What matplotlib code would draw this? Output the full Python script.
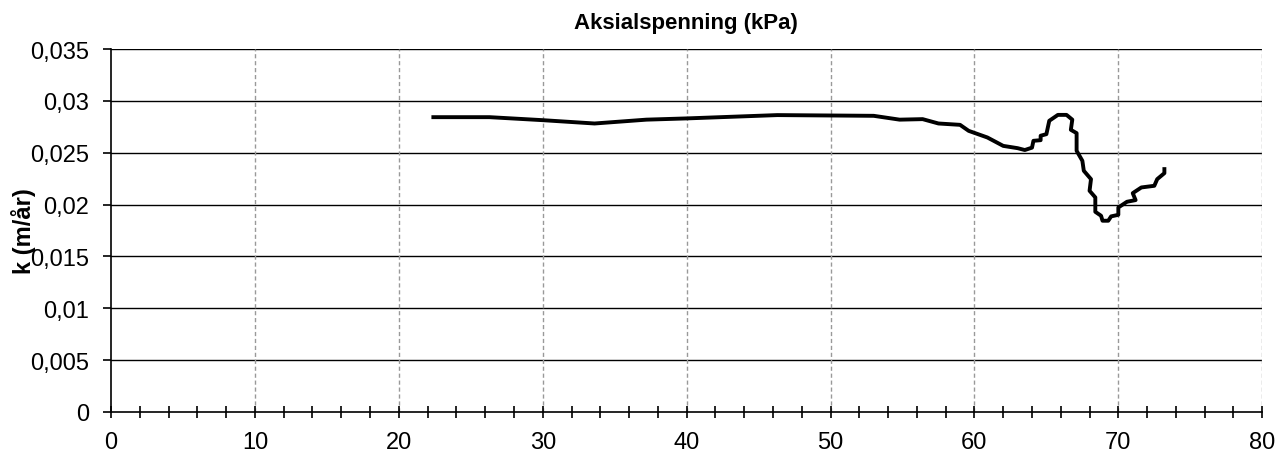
import numpy as np
import matplotlib
matplotlib.use("Agg")
import matplotlib.pyplot as plt
from matplotlib.ticker import MultipleLocator

plt.rcParams['font.family'] = ['Liberation Sans', 'DejaVu Sans']

# aksialspenning (kPa) vs permeabilitet k (m/år)
spenning = [22.4, 26.3, 30.0, 33.6, 37.2, 40.0, 46.3, 53.0, 54.8, 56.4, 57.5,
            59.0, 59.6, 60.9, 62.0, 63.0, 63.5, 64.0, 64.1, 64.6, 64.6, 65.0,
            65.2, 65.8, 66.4, 66.8, 66.7, 67.1, 67.1, 67.5, 67.6, 68.1, 68.0,
            68.4, 68.4, 68.8, 68.9, 69.3, 69.5, 70.0, 70.0, 70.6, 71.2, 71.0,
            71.6, 72.5, 72.7, 73.2, 73.2]
k = [0.02844, 0.02844, 0.02815, 0.02783, 0.0282, 0.02832, 0.02864, 0.02857,
     0.0282, 0.02825, 0.02783, 0.0277, 0.02712, 0.02648, 0.02567, 0.02545,
     0.02527, 0.0255, 0.02616, 0.02622, 0.02665, 0.0268, 0.02809, 0.02866,
     0.02866, 0.0282, 0.02722, 0.0269, 0.0252, 0.02423, 0.02327, 0.02246,
     0.02134, 0.0207, 0.01931, 0.01893, 0.01845, 0.01845, 0.01887, 0.01902,
     0.01973, 0.02028, 0.02044, 0.02111, 0.02166, 0.02182, 0.02246, 0.02304,
     0.02343]

yticks = [0, 0.005, 0.01, 0.015, 0.02, 0.025, 0.03, 0.035]
ylabels = ["0", "0,005", "0,01", "0,015", "0,02", "0,025", "0,03", "0,035"]
xticks = [0, 10, 20, 30, 40, 50, 60, 70, 80]

fig = plt.figure(figsize=(12.88, 4.56), dpi=100)
ax = fig.add_axes([0.0862, 0.0943, 0.8938, 0.7957])

ax.plot(spenning, k, color='black', lw=2.8, solid_joinstyle='round', zorder=3)

ax.set_xlim(0, 80)
ax.set_ylim(0, 0.035)
ax.set_xticks(xticks)
ax.xaxis.set_minor_locator(MultipleLocator(2))
ax.set_yticks(yticks)
ax.set_yticklabels(ylabels)

# grid: solid black horizontal, dashed grey vertical
for y in yticks[1:]:
    ax.axhline(y, color='black', lw=1.0, zorder=1)
for x in xticks[1:]:
    ax.axvline(x, color='#999999', lw=1.0, ls=(0, (3, 2)), zorder=1)

ax.spines['top'].set_visible(False)
ax.spines['right'].set_visible(False)
ax.spines['left'].set_linewidth(1.2)
ax.spines['bottom'].set_linewidth(1.2)

ax.tick_params(axis='x', which='major', direction='inout', length=9, width=1.2,
               labelsize=17, pad=9)
ax.tick_params(axis='x', which='minor', direction='inout', length=9, width=1.2)
ax.tick_params(axis='y', direction='out', length=6, width=1.2, labelsize=17, pad=10)

# x-axis title sits on top, y title overlaps the tick labels as in the original
fig.text(686 / 1288, 1 - 23 / 456, "Aksialspenning (kPa)", fontsize=16,
         fontweight='bold', ha='center', va='center')
fig.text(23 / 1288, 1 - 231 / 456, "k (m/år)", fontsize=17, fontweight='bold',
         rotation=90, ha='center', va='center')

fig.savefig("out.png", dpi=100)
